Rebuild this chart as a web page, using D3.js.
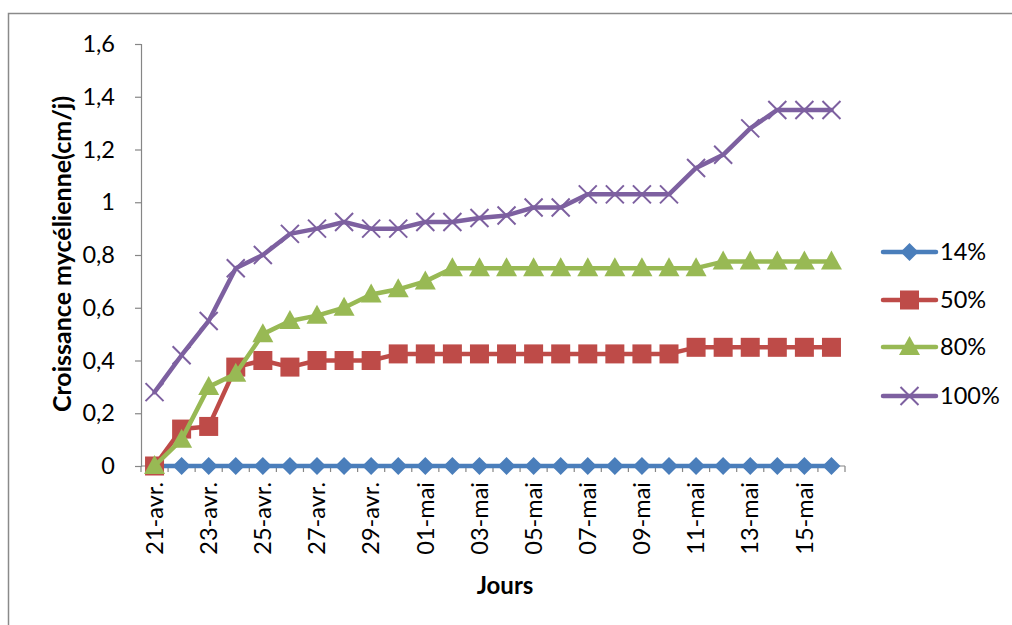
<!DOCTYPE html>
<html><head><meta charset="utf-8">
<script src="https://cdn.jsdelivr.net/npm/d3@7"></script>
<style>body{margin:0;background:#fff}svg{display:block}text{font-family:Lato,"Open Sans",sans-serif}</style>
</head><body>
<svg id="c" width="1012" height="625"></svg>
<script>
const dates = ["21-avr.","22-avr.","23-avr.","24-avr.","25-avr.","26-avr.","27-avr.","28-avr.","29-avr.","30-avr.","01-mai","02-mai","03-mai","04-mai","05-mai","06-mai","07-mai","08-mai","09-mai","10-mai","11-mai","12-mai","13-mai","14-mai","15-mai","16-mai"];
const s14  = [0,0,0,0,0,0,0,0,0,0,0,0,0,0,0,0,0,0,0,0,0,0,0,0,0,0];
const s50  = [0,0.14,0.15,0.375,0.40,0.375,0.40,0.40,0.40,0.425,0.425,0.425,0.425,0.425,0.425,0.425,0.425,0.425,0.425,0.425,0.45,0.45,0.45,0.45,0.45,0.45];
const s80  = [0,0.10,0.30,0.35,0.50,0.55,0.57,0.60,0.65,0.67,0.70,0.75,0.75,0.75,0.75,0.75,0.75,0.75,0.75,0.75,0.75,0.775,0.775,0.775,0.775,0.775];
const s100 = [0.28,0.42,0.55,0.75,0.80,0.88,0.90,0.925,0.90,0.90,0.925,0.925,0.94,0.95,0.98,0.98,1.03,1.03,1.03,1.03,1.13,1.18,1.28,1.35,1.35,1.35];
const seriesNames = ["14%","50%","80%","100%"];
const yTicks = [0,0.2,0.4,0.6,0.8,1,1.2,1.4,1.6];
const yTickLabels = ["0","0,2","0,4","0,6","0,8","1","1,2","1,4","1,6"];
const tickLabelEvery = 2;

const colors = ["#4A7EBB","#BE4B48","#98B954","#7D60A0"];
const shapes = ["diamond","square","triangle","x"];
const series = [s14,s50,s80,s100].map((v,i)=>({name:seriesNames[i],values:v,color:colors[i],shape:shapes[i]}));

const FS = 23.5;
const svg = d3.select("#c");
svg.append("rect").attr("x",8.5).attr("y",13.5).attr("width",1100).attr("height",700)
  .attr("fill","#fff").attr("stroke","#8a8a8a").attr("stroke-width",1.5);

const L=141, R=845, T=44, B=466;
const x = d3.scaleBand().domain(dates).range([L,R]).paddingInner(0).paddingOuter(0);
const y = d3.scaleLinear().domain([0,1.6]).range([B,T]);
const cx = d => x(d)+x.bandwidth()/2;
const axisColor="#868686";

// y axis
const ya = svg.append("g").attr("transform",`translate(${L},0)`)
  .call(d3.axisLeft(y).tickValues(yTicks).tickSize(6).tickPadding(20).tickFormat((d,i)=>yTickLabels[i]));
ya.select(".domain").attr("stroke",axisColor).attr("stroke-width",1.2);
ya.selectAll(".tick line").attr("stroke",axisColor).attr("stroke-width",1.2);
ya.selectAll("text").attr("font-size",FS).attr("fill","#000").attr("font-family","Lato");

// x axis
const xa = svg.append("g").attr("transform",`translate(0,${B})`);
xa.append("line").attr("x1",L).attr("x2",R).attr("y1",0).attr("y2",0).attr("stroke",axisColor).attr("stroke-width",1.2);
const bounds = dates.map(d=>x(d)).concat([R]);
xa.selectAll("line.tk").data(bounds).join("line").attr("class","tk")
  .attr("x1",d=>d).attr("x2",d=>d).attr("y1",0).attr("y2",6).attr("stroke",axisColor).attr("stroke-width",1.2);
xa.selectAll("text").data(dates.filter((d,i)=>i%tickLabelEvery===0)).join("text")
  .attr("transform",d=>`translate(${cx(d)},16) rotate(-90)`)
  .attr("text-anchor","end").attr("dy","0.35em").attr("font-size",FS).text(d=>d);

// titles
svg.append("text").attr("transform",`translate(62,254) rotate(-90)`)
  .attr("text-anchor","middle").attr("dy","0.35em").attr("font-size",25).attr("font-weight","bold")
  .text("Croissance mycélienne(cm/j)");
svg.append("text").attr("x",505).attr("y",586).attr("text-anchor","middle").attr("dy","0.35em")
  .attr("font-size",24).attr("font-weight","bold").text("Jours");

function marker(g, shape, color, px, py){
  if(shape==="diamond"){
    g.append("path").attr("d",`M${px},${py-9}L${px+9},${py}L${px},${py+9}L${px-9},${py}Z`).attr("fill",color);
  } else if(shape==="square"){
    g.append("rect").attr("x",px-9.5).attr("y",py-9.5).attr("width",19).attr("height",19).attr("fill",color);
  } else if(shape==="triangle"){
    g.append("path").attr("d",`M${px},${py-11}L${px+10.5},${py+8}L${px-10.5},${py+8}Z`).attr("fill",color);
  } else {
    g.append("path").attr("d",`M${px-9},${py-9}L${px+9},${py+9}M${px-9},${py+9}L${px+9},${py-9}`)
      .attr("stroke",color).attr("stroke-width",2).attr("fill","none");
  }
}

const line = d3.line().x((d,i)=>cx(dates[i])).y(d=>y(d));
series.forEach(s=>{
  const g = svg.append("g");
  g.append("path").datum(s.values).attr("d",line).attr("fill","none").attr("stroke",s.color)
    .attr("stroke-width",4.5).attr("stroke-linejoin","round").attr("stroke-linecap","round");
  s.values.forEach((v,i)=>marker(g,s.shape,s.color,cx(dates[i]),y(v)));
});

// legend
const legY = [252,300,347,396];
series.forEach((s,i)=>{
  const g = svg.append("g");
  g.append("line").attr("x1",883).attr("x2",936).attr("y1",legY[i]).attr("y2",legY[i])
    .attr("stroke",s.color).attr("stroke-width",4.5).attr("stroke-linecap","round");
  marker(g,s.shape,s.color,909.5,legY[i]);
  g.append("text").attr("x",940).attr("y",legY[i]).attr("dy","0.35em").attr("font-size",FS).text(s.name);
});
</script>
</body></html>
